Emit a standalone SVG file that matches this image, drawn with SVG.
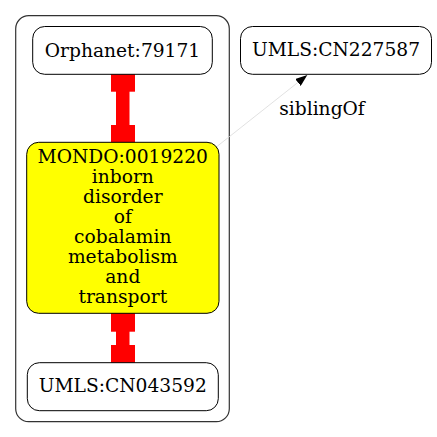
<svg xmlns="http://www.w3.org/2000/svg" width="437" height="437" viewBox="0 0 437 437">
<style>
  text { font-family: "DejaVu Serif", "Liberation Serif", serif; font-size: 18.67px; fill: #000; text-anchor: middle; }
  .node { fill: #fff; stroke: #000; stroke-width: 1; }
  .hl { fill: #ffff00; stroke: #000; stroke-width: 1; }
  .red { fill: #ff0000; stroke: none; }
  .cluster { fill: none; stroke: #333; stroke-width: 1.2; }
</style>
<defs>
  <marker id="arr" viewBox="0 0 12 9" refX="12" refY="4.5" markerWidth="12" markerHeight="9" markerUnits="userSpaceOnUse" orient="auto">
    <path d="M0,0 L12,4.5 L0,9 z" fill="#000"/>
  </marker>
</defs>
<rect width="437" height="437" fill="#fff"/>
<g id="cluster">
  <rect class="cluster" x="15.7" y="15.7" width="213.6" height="406" rx="13" ry="13"/>
</g>
<g id="connectors">
  <g id="e1">
    <rect class="red" x="111" y="67.3" width="24" height="24.4"/>
    <rect class="red" x="116" y="91" width="13.5" height="35"/>
    <rect class="red" x="111" y="125" width="24" height="23.5"/>
  </g>
  <g id="e2">
    <rect class="red" x="111" y="307" width="24" height="24.7"/>
    <rect class="red" x="116" y="331" width="13.5" height="15"/>
    <rect class="red" x="111" y="345" width="24" height="23"/>
  </g>
  <g id="e3">
    <line x1="216.7" y1="146.7" x2="307.3" y2="75" stroke="#d9d9d9" stroke-width="0.8" marker-end="url(#arr)"/>
    <text x="322" y="115">siblingOf</text>
  </g>
</g>
<g id="orphanet">
  <rect class="node" x="32.7" y="26.5" width="179.6" height="47.8" rx="12" ry="12"/>
  <text x="122.5" y="56.5">Orphanet:79171</text>
</g>
<g id="mondo">
  <rect class="hl" x="26.7" y="142.3" width="192.3" height="171" rx="12" ry="12"/>
  <text x="122.8" y="163.3">MONDO:0019220</text>
  <text x="122.8" y="183.2">inborn</text>
  <text x="122.8" y="203.1">disorder</text>
  <text x="122.8" y="223">of</text>
  <text x="122.8" y="243">cobalamin</text>
  <text x="122.8" y="262.9">metabolism</text>
  <text x="122.8" y="282.8">and</text>
  <text x="122.8" y="302.7">transport</text>
</g>
<g id="umls043592">
  <rect class="node" x="27.3" y="362.7" width="191" height="48" rx="12" ry="12"/>
  <text x="122.8" y="392">UMLS:CN043592</text>
</g>
<g id="umls227587">
  <rect class="node" x="240.5" y="26.5" width="191" height="47.8" rx="12" ry="12"/>
  <text x="336" y="56">UMLS:CN227587</text>
</g>
</svg>
